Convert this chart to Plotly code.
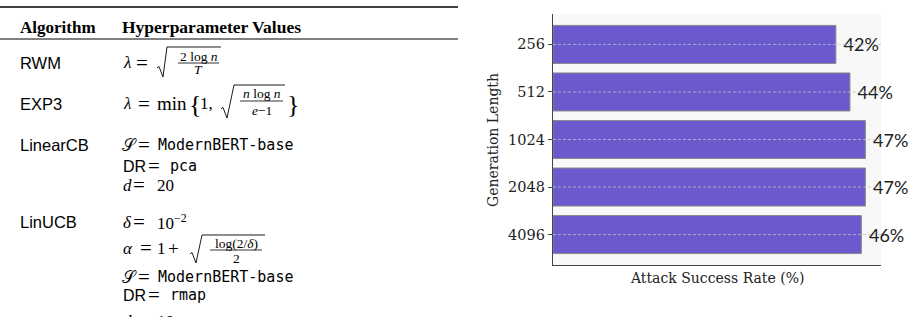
import plotly.graph_objects as go

# ---------------- data ----------------
gen_lengths = ["256", "512", "1024", "2048", "4096"]
asr_values = [42.2, 44.3, 46.6, 46.6, 46.0]

algorithms = ["RWM", "EXP3", "LinearCB", "LinUCB"]
header_cols = ["Algorithm", "Hyperparameter Values"]

W, H = 912, 317
X_MAX = 48.93

def X(px):
    return px / W

def Y(py):
    return 1 - py / H

fig = go.Figure()

# bars
fig.add_trace(go.Bar(
    x=asr_values, y=gen_lengths, orientation="h",
    marker=dict(color="#6a5acd", line=dict(color="#8a8a8a", width=1)),
    width=0.8,
    text=["\u00a0" + f"{v:.0f}%" for v in asr_values],
    textposition="outside", cliponaxis=False,
    textfont=dict(family="Lato", size=18, color="#222222"),
    showlegend=False, hoverinfo="skip",
))
# dashed grid lines drawn over bars
for c in gen_lengths:
    fig.add_trace(go.Scatter(
        x=[0, X_MAX], y=[c, c], mode="lines",
        line=dict(color="rgba(195,195,195,0.75)", width=1, dash="3px,2px"),
        showlegend=False, hoverinfo="skip",
    ))

fig.update_layout(
    width=W, height=H,
    margin=dict(l=0, r=0, t=0, b=0),
    paper_bgcolor="white",
    plot_bgcolor="#f8f8f8",
    xaxis=dict(domain=[X(553), X(881)], range=[0, X_MAX], showgrid=False,
               showticklabels=False, ticks="", zeroline=False,
               showline=True, linecolor="#444444", linewidth=1.3),
    yaxis=dict(domain=[Y(265), Y(14)], type="category",
               categoryorder="array", categoryarray=gen_lengths,
               range=[4.64, -0.64], showgrid=False, zeroline=False,
               showline=True, linecolor="#444444", linewidth=1.3,
               ticks="outside", ticklen=4, tickcolor="#444444",
               tickfont=dict(family="DejaVu Serif", size=14.5, color="#222222")),
)

anns = []
def ann(x, y, text, family="Liberation Serif", size=17, xanchor="left",
        color="#000000", angle=0):
    if xanchor == "left":
        x = x - 2  # compensate annotation box padding
    anns.append(dict(x=X(x), y=Y(y), xref="paper", yref="paper", text=text,
                     showarrow=False, xanchor=xanchor, yanchor="middle",
                     font=dict(family=family, size=size, color=color),
                     textangle=angle))

def eq(x, y):
    ann(x, y, "=", size=21)

# axis titles
ann(493, 140, "Generation Length", family="DejaVu Serif", size=14,
    xanchor="center", color="#222222", angle=-90)
ann(717, 278, "Attack Success Rate (%)", family="DejaVu Serif", size=14,
    xanchor="center", color="#222222")

# ---------------- table ----------------
shapes = []
def hline(x0, x1, y, w=1.0):
    shapes.append(dict(type="line", xref="paper", yref="paper",
                       x0=X(x0), x1=X(x1), y0=Y(y), y1=Y(y),
                       line=dict(color="black", width=w)))

def radical(x0, x_top, y_top, y_bot, x_end):
    pts = [(x0, y_bot - 9), (x0 + 2, y_bot - 10.5), (x0 + 6, y_bot),
           (x_top, y_top), (x_end, y_top)]
    path = "M " + " L ".join(f"{X(a):.5f},{Y(b):.5f}" for a, b in pts)
    shapes.append(dict(type="path", xref="paper", yref="paper", path=path,
                       line=dict(color="black", width=0.9)))

hline(0, 458, 7, 1.6)
hline(0, 458, 39, 1.0)

ann(20, 27, "<b>" + header_cols[0] + "</b>", size=17)
ann(122, 27, "<b>" + header_cols[1] + "</b>", size=17.5)

SANS = "Liberation Sans"
MONO = "DejaVu Sans Mono"
row_y = [63, 104, 145, 222]
for name, yy in zip(algorithms, row_y):
    ann(20, yy, name, family=SANS, size=16.5)

FR = 13.5  # fraction text size

# RWM
ann(123, 63, "<i>λ</i>")
eq(136, 63)
radical(157, 167, 47, 77, 221)
ann(198.5, 56, "2 log <i>n</i>", size=FR, xanchor="center")
hline(178, 219, 63, 0.8)
ann(198.5, 70, "<i>T</i>", size=FR, xanchor="center")

# EXP3
ann(123, 104, "<i>λ</i>")
eq(138, 104)
ann(157, 104, "min", size=19)
ann(189, 105, "{", size=26)
ann(200, 104, "1,")
radical(221, 234, 85, 118, 285)
ann(261.5, 94, "<i>n</i> log <i>n</i>", size=FR, xanchor="center")
hline(240, 283, 101, 0.8)
ann(261.5, 110, "<i>e</i>−1", size=FR, xanchor="center")
ann(287, 105, "}", size=26)

def mono_line(y, word):
    ann(158, y, word, family=MONO, size=15)

# LinearCB
ann(122, 145, "𝒮")
eq(138, 145)
mono_line(145, "ModernBERT-base")
ann(123, 166, "DR", family=SANS, size=16)
eq(148, 166)
ann(170, 166, "pca", family=MONO, size=15)
ann(123, 185, "<i>d</i>")
eq(133, 185)
ann(157, 185, "20")

# LinUCB
ann(123, 222, "<i>δ</i>")
eq(133, 222)
ann(157, 222, "10<sup>−2</sup>")
ann(123, 248, "<i>α</i>")
eq(140, 248)
ann(157, 248, "1")
ann(168, 248, "+", size=19)
radical(190, 202, 235, 263, 265)
ann(236, 243, "log(2/<i>δ</i>)", size=FR, xanchor="center")
hline(210, 262, 250, 0.8)
ann(236, 258, "2", size=FR, xanchor="center")
ann(122, 277, "𝒮")
eq(138, 277)
mono_line(277, "ModernBERT-base")
ann(123, 295, "DR", family=SANS, size=16)
eq(148, 295)
ann(170, 295, "rmap", family=MONO, size=15)
ann(123, 322, "<i>d</i>")
eq(133, 322)
ann(157, 322, "10")

fig.update_layout(annotations=anns, shapes=shapes)
fig.write_html("out.html")
